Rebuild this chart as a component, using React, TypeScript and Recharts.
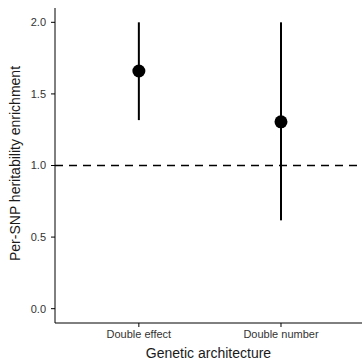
import {
    ScatterChart,
    Scatter,
    XAxis,
    YAxis,
    ReferenceLine,
    ErrorBar,
} from "recharts";

const categories = ["Double effect", "Double number"];
const estimates = [1.66, 1.305];
const lowerBounds = [1.317, 0.617];
const upperBounds = [2.0, 2.0];
const yTicks = [0, 0.5, 1, 1.5, 2];

const FONT = "'Liberation Sans', Arial, Helvetica, sans-serif";

const rows = categories.map((name, i) => ({
    x: i + 1,
    name,
    y: estimates[i],
    err: [estimates[i] - lowerBounds[i], upperBounds[i] - estimates[i]],
}));

const Dot = (props: any) => <circle cx={props.cx} cy={props.cy} r={6.5} fill="#000" />;

const YLabel = ({ viewBox }: any) => {
    const cx = viewBox.x + 15;
    const cy = viewBox.y + viewBox.height / 2 - 2;
    return (
        <text
            x={cx}
            y={cy}
            transform={`rotate(-90 ${cx} ${cy})`}
            textAnchor="middle"
            dominantBaseline="central"
            fontSize={14}
            fontFamily={FONT}
            fill="#1a1a1a"
        >
            Per-SNP heritability enrichment
        </text>
    );
};

const XLabel = ({ viewBox }: any) => (
    <text
        x={viewBox.x + viewBox.width / 2}
        y={viewBox.y + 35}
        textAnchor="middle"
        fontSize={14}
        fontFamily={FONT}
        fill="#1a1a1a"
    >
        Genetic architecture
    </text>
);

export default function App() {
    return (
        <div style={{ position: "absolute", left: 0, top: 0, background: "#fff" }}>
            <ScatterChart width={362} height={362} margin={{ top: 8, right: 0, bottom: 0, left: 0 }}>
                <XAxis
                    type="number"
                    dataKey="x"
                    domain={[0.41, 2.57]}
                    ticks={[1, 2]}
                    tickFormatter={(v: number) => categories[v - 1]}
                    height={39}
                    stroke="#000"
                    tickSize={4}
                    tickMargin={3}
                    tick={{ fontSize: 11, fill: "#333", fontFamily: FONT }}
                    label={<XLabel />}
                />
                <YAxis
                    type="number"
                    dataKey="y"
                    domain={[-0.1, 2.1]}
                    ticks={yTicks}
                    tickFormatter={(v: number) => v.toFixed(1)}
                    width={55}
                    stroke="#000"
                    tickSize={4}
                    tickMargin={5}
                    tick={{ fontSize: 11, fill: "#333", fontFamily: FONT }}
                    label={<YLabel />}
                />
                <ReferenceLine y={1} stroke="#000" strokeWidth={1.5} strokeDasharray="8 6" />
                <Scatter data={rows} shape={<Dot />} isAnimationActive={false}>
                    <ErrorBar dataKey="err" direction="y" width={0} stroke="#000" strokeWidth={2} isAnimationActive={false} />
                </Scatter>
            </ScatterChart>
        </div>
    );
}
